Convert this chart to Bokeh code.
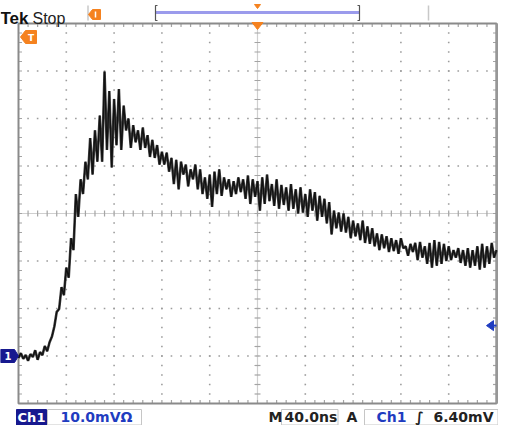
from bokeh.plotting import figure
from bokeh.models import Range1d
from bokeh.core.properties import value
from bokeh.embed import file_html
from bokeh.resources import INLINE

time_per_div_ns = 40.0
volts_per_div_mv = 10.0
trigger_level_mv = 6.40
ground_offset_div = -3          # ground marker sits 3 divisions below centre
t_first_ns = -200.0
t_step_ns = 2.0

# channel 1, mV relative to ground, one sample every 2 ns
ch1_mv = [
    -0.4, 0.6, -0.6, 0.2, -1.0, 0.4, -0.2, 1.2, -0.8, 0.8, 0.2, 2.1, 1.0, 2.9,
    4.1, 6.2, 9.3, 9.9, 14.5, 12.8, 18.6, 16.5, 24.8, 22.3,
    34.1, 29.3, 37.2, 34.1, 40.9, 37.2, 45.9, 38.2, 47.5, 40.9, 50.6, 40.9, 59.9, 43.4, 55.8, 39.7,
    54.1, 44.4, 56.2, 43.4, 52.7, 47.5, 50.0, 43.8, 48.6, 45.0, 47.5, 43.4, 48.1, 43.8, 46.5, 41.9, 45.5, 41.7, 44.4, 40.3,
    43.0, 40.3, 42.8, 38.8, 41.7, 36.2, 41.3, 35.1, 40.9, 38.2, 40.3, 35.7, 39.3, 37.2, 40.3, 35.1, 39.3, 34.1, 37.6, 33.1,
    38.2, 31.4, 38.8, 34.1, 39.3, 33.7, 37.6, 35.1, 37.2, 33.5, 36.8, 34.1, 37.6, 34.5, 37.2, 33.1, 38.0, 32.0, 37.2, 33.5,
    36.8, 30.6, 37.6, 32.0, 38.2, 32.6, 36.2, 31.6, 37.2, 31.0, 36.0, 31.8, 35.5, 30.6, 36.2, 31.0, 35.1, 30.0, 35.5, 30.2,
    34.1, 29.3, 35.1, 30.6, 34.5, 28.5, 33.7, 29.3, 33.1, 27.9, 32.4, 25.6, 30.6, 26.9, 30.2, 26.2, 30.0, 26.0, 29.3, 24.8,
    28.5, 25.2, 27.9, 24.4, 28.5, 23.8, 27.3, 23.6, 26.9, 23.1, 25.8, 22.3, 25.6, 22.7, 25.2, 21.9, 24.8, 22.1, 24.4, 21.5,
    24.8, 22.7, 23.1, 21.1, 23.6, 21.9, 23.8, 20.2, 24.0, 20.7, 23.1, 19.4, 23.8, 18.6, 24.4, 19.0, 24.0, 19.4, 23.6, 20.0,
    23.1, 20.2, 22.3, 20.7, 22.7, 19.6, 22.3, 19.0, 22.7, 18.6, 22.3, 19.0, 23.1, 18.2, 23.6, 18.6, 23.1, 19.4, 23.8, 20.7, 22.3,
]
time_ns = [t_first_ns + t_step_ns * i for i in range(len(ch1_mv))]

status_word = "Stop"
channel_name = "Ch1"
vscale_text = f"{volts_per_div_mv:.1f}mVΩ"
hscale_text = f"{time_per_div_ns:.1f}ns"
trig_text = f"{trigger_level_mv:.2f}mV"

# ---------------- layout ----------------
W, H = 498, 425
GL, GT, GW, GH = 18, 23, 478, 380
NH, NV = 10, 8
DX, DY = time_per_div_ns, volts_per_div_mv
ppx = GW / (NH * DX)
ppy = GH / (NV * DY)
gx0, gx1 = -NH / 2 * DX, NH / 2 * DX
gy0 = (-NV / 2 - ground_offset_div) * DY
gy1 = (NV / 2 - ground_offset_div) * DY
x_lo = gx0 - GL / ppx
x_hi = x_lo + W / ppx
y_hi = gy1 + GT / ppy
y_lo = y_hi - H / ppy
xc = (gx0 + gx1) / 2
yc = (gy0 + gy1) / 2


def X(px):
    return x_lo + px / ppx


def Y(py):
    return y_hi - py / ppy


p = figure(width=W, height=H, x_range=Range1d(x_lo, x_hi), y_range=Range1d(y_lo, y_hi),
           output_backend="svg", toolbar_location=None, x_axis_type=None, y_axis_type=None,
           min_border=0, outline_line_color=None,
           background_fill_color="white", border_fill_color="white")

# ---- graticule dots ----
dx_, dy_ = [], []
for k in range(1, NH):
    if k == NH // 2:
        continue
    for j in range(1, NV * 5):
        dx_.append(gx0 + k * DX)
        dy_.append(gy0 + j * DY / 5)
for m in range(1, NV):
    if m == NV // 2:
        continue
    for j in range(1, NH * 5):
        dx_.append(gx0 + j * DX / 5)
        dy_.append(gy0 + m * DY)
p.rect(dx_, dy_, width=1.6, height=1.6, width_units="screen", height_units="screen",
       fill_color="#9c9c9c", line_color=None)

# ---- centre cross with ticks ----
p.segment([xc, gx0], [gy0, yc], [xc, gx1], [gy1, yc], line_color="#cfcfcf", line_width=1.2)
tl = 3.0
sx0, sy0, sx1, sy1 = [], [], [], []
for j in range(1, NV * 5):
    y = gy0 + j * DY / 5
    sx0.append(xc - tl / ppx); sx1.append(xc + tl / ppx); sy0.append(y); sy1.append(y)
for j in range(1, NH * 5):
    x = gx0 + j * DX / 5
    sx0.append(x); sx1.append(x); sy0.append(yc - tl / ppy); sy1.append(yc + tl / ppy)
# border ticks (inward)
bl = 3.5
for j in range(1, NH * 5):
    x = gx0 + j * DX / 5
    sx0 += [x, x]; sx1 += [x, x]
    sy0 += [gy1, gy0]; sy1 += [gy1 - bl / ppy, gy0 + bl / ppy]
for j in range(1, NV * 5):
    y = gy0 + j * DY / 5
    sx0 += [gx0, gx1]; sx1 += [gx0 + bl / ppx, gx1 - bl / ppx]
    sy0 += [y, y]; sy1 += [y, y]
p.segment(sx0, sy0, sx1, sy1, line_color="#a4a4a4", line_width=1.2)

# ---- frame ----
p.quad(left=[gx0], right=[gx1], bottom=[gy0], top=[gy1], fill_color=None,
       line_color="#8a8a8a", line_width=2)
p.segment([gx1 + 0.6 / ppx], [gy0], [gx1 + 0.6 / ppx], [gy1], line_color="#979797", line_width=3)

# ---- trace ----
p.line(time_ns, ch1_mv, line_color="#444444", line_width=2.6)
p.line(time_ns, ch1_mv, line_color="#111111", line_width=1.3)

ORANGE = "#f5821f"
NAVY = "#17198f"
BLUE = "#1f3cc0"

# ---- header ----
p.text([X(0)], [Y(18)], text=["Tek"], text_font=value("Liberation Sans"), text_font_style="bold",
       text_font_size="17px", text_color="#111111", text_baseline="alphabetic")
p.text([X(32)], [Y(18)], text=[status_word], text_font=value("Liberation Sans"),
       text_font_size="16px", text_color="#222222", text_baseline="alphabetic")
# light position ticks
p.segment([X(87.5), X(428)], [Y(5), Y(5)], [X(87.5), X(428)], [Y(20), Y(20)],
          line_color="#c8c8c8", line_width=1.5)
# small orange flag
p.patch([X(88), X(92), X(100), X(100), X(92)], [Y(14), Y(9), Y(9), Y(19), Y(19)],
        fill_color=ORANGE, line_color=ORANGE)
p.segment([X(95)], [Y(11)], [X(95)], [Y(17)], line_color="white", line_width=1.5)
# record bar
p.segment([X(155)], [Y(12)], [X(359)], [Y(12)], line_color="#9b9bec", line_width=3)
p.line([X(157), X(155), X(155), X(157)], [Y(5), Y(5), Y(20), Y(20)], line_color="#555555", line_width=1.2)
p.line([X(357), X(359), X(359), X(357)], [Y(5), Y(5), Y(20), Y(20)], line_color="#555555", line_width=1.2)
p.patch([X(254), X(260), X(257)], [Y(4), Y(4), Y(8)], fill_color=ORANGE, line_color=ORANGE)
# trigger position marker on top border
p.patch([X(251.5), X(262.5), X(257)], [Y(22), Y(22), Y(29)], fill_color=ORANGE, line_color=ORANGE)
# trigger flag top-left inside graticule
p.patch([X(20), X(25), X(36), X(36), X(25)], [Y(36.5), Y(30), Y(30), Y(43), Y(43)],
        fill_color=ORANGE, line_color=ORANGE)
p.text([X(30.5)], [Y(37)], text=["T"], text_font=value("DejaVu Sans"), text_font_style="bold",
       text_font_size="9px", text_color="white", text_align="center", text_baseline="middle")

# ---- ground marker ----
p.patch([X(0), X(14), X(18), X(14), X(0)],
        [0 + 6.5 / ppy, 0 + 6.5 / ppy, 0, 0 - 6.5 / ppy, 0 - 6.5 / ppy], fill_color=NAVY, line_color=NAVY)
p.text([X(7.5)], [0], text=["1"], text_font=value("DejaVu Sans"), text_font_style="bold",
       text_font_size="10px", text_color="white", text_align="center", text_baseline="middle")

# ---- trigger level arrow ----
p.patch([X(486), X(493), X(493)], [trigger_level_mv, trigger_level_mv + 5 / ppy, trigger_level_mv - 5 / ppy],
        fill_color=BLUE, line_color=BLUE)
p.segment([X(492)], [trigger_level_mv], [X(496)], [trigger_level_mv], line_color=BLUE, line_width=2)

# ---- footer ----
fy = 416.5
FONT = value("DejaVu Sans")
p.quad(left=[X(16)], right=[X(46)], top=[Y(409)], bottom=[Y(424.5)], fill_color=NAVY, line_color=NAVY)
p.text([X(31)], [Y(fy)], text=[channel_name], text_font=FONT, text_font_style="bold",
       text_font_size="13px", text_color="white", text_align="center", text_baseline="middle")
p.quad(left=[X(47), X(281), X(364)], right=[X(141), X(337.5), X(497.5)],
       top=[Y(409)] * 3, bottom=[Y(424.5)] * 3, fill_color="white", line_color="#c6c6c6", line_width=1)
p.text([X(60)], [Y(fy)], text=[vscale_text], text_font=FONT, text_font_style="bold",
       text_font_size="14px", text_color=BLUE, text_baseline="middle")
p.text([X(268)], [Y(fy)], text=["M"], text_font=FONT, text_font_style="bold",
       text_font_size="14px", text_color="#222222", text_baseline="middle")
p.text([X(284)], [Y(fy)], text=[hscale_text], text_font=FONT, text_font_style="bold",
       text_font_size="14px", text_color="#222222", text_baseline="middle")
p.text([X(346)], [Y(fy)], text=["A"], text_font=FONT, text_font_style="bold",
       text_font_size="14px", text_color="#222222", text_baseline="middle")
p.text([X(376)], [Y(fy)], text=[channel_name], text_font=FONT, text_font_style="bold",
       text_font_size="14px", text_color=BLUE, text_baseline="middle")
p.text([X(419)], [Y(fy)], text=["∫"], text_font=FONT, text_font_style="bold",
       text_font_size="14px", text_color="#222222", text_align="center", text_baseline="middle")
p.text([X(433)], [Y(fy)], text=[trig_text], text_font=FONT, text_font_style="bold",
       text_font_size="14px", text_color="#222222", text_baseline="middle")

open("out.html", "w").write(file_html(p, INLINE))
